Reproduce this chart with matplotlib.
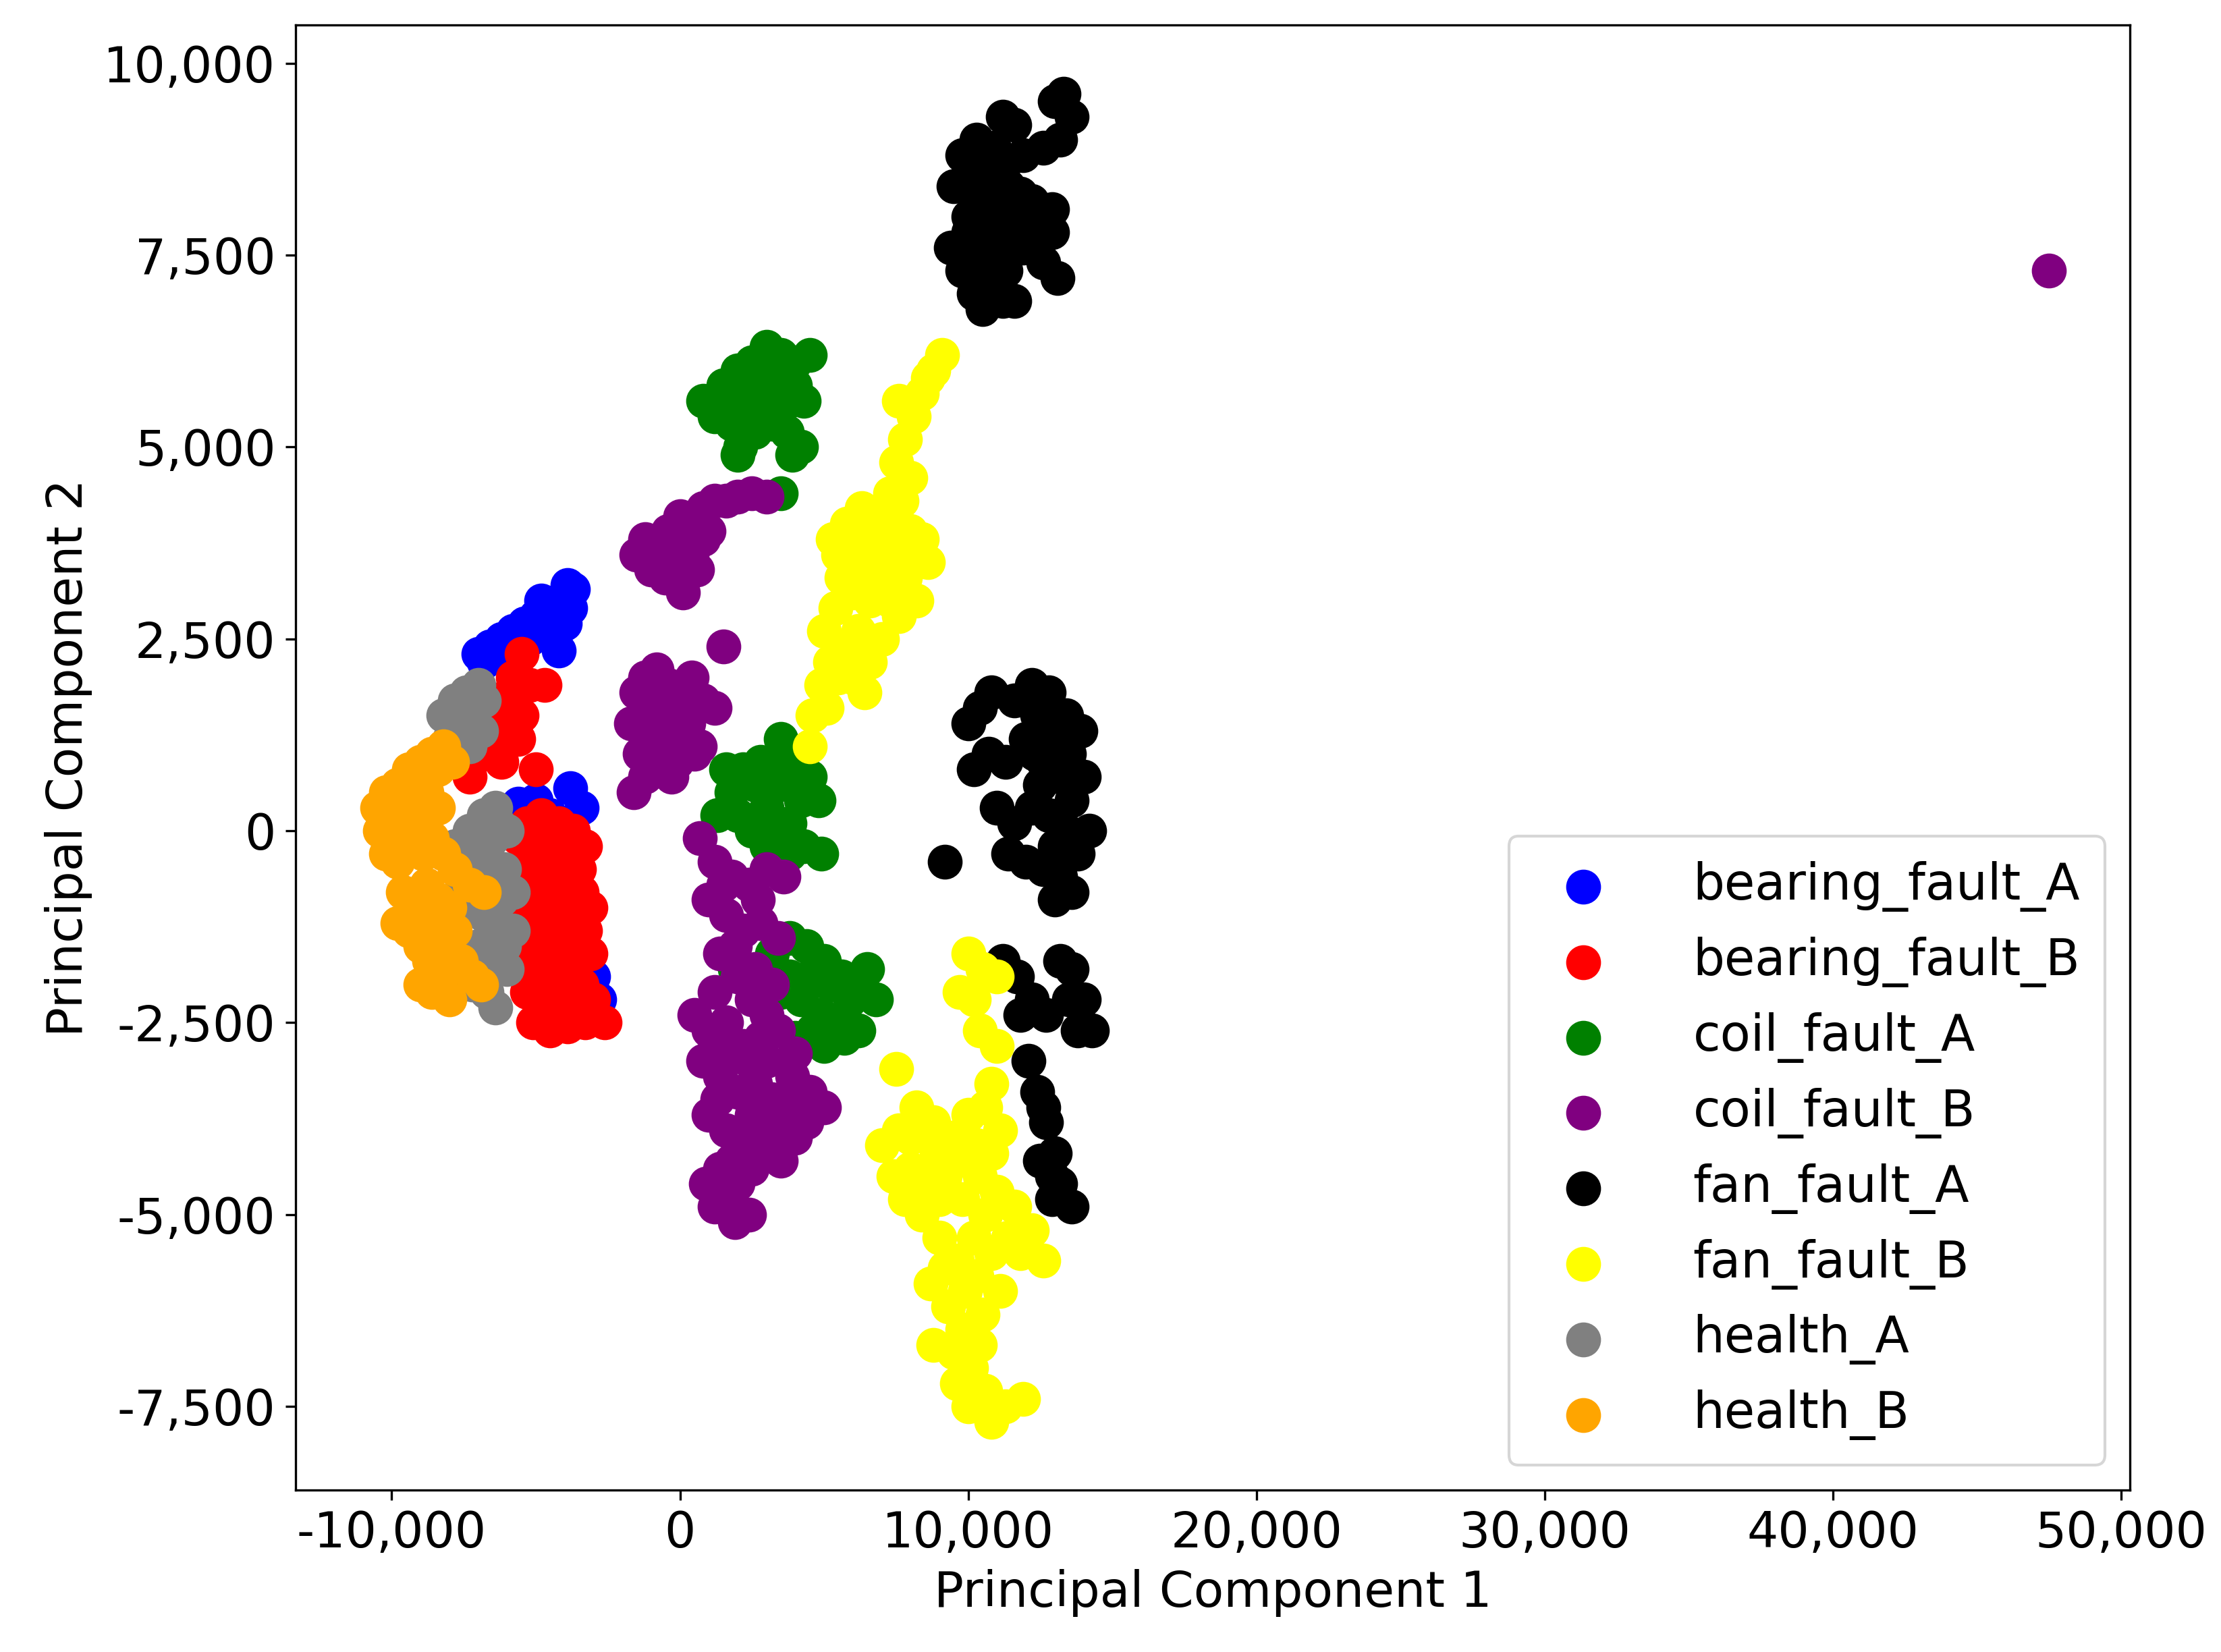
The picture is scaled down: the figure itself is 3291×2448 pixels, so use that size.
import matplotlib
matplotlib.use("Agg")
import matplotlib.pyplot as plt
from matplotlib.ticker import FuncFormatter

labels = ["bearing_fault_A", "bearing_fault_B", "coil_fault_A", "coil_fault_B",
          "fan_fault_A", "fan_fault_B", "health_A", "health_B"]
colors = ["blue", "red", "green", "purple", "black", "yellow", "gray", "orange"]

# values in thousands (x, y)
bearing_fault_A = [(-7.0,2.3),(-6.6,2.4),(-6.2,2.5),(-5.8,2.6),(-5.4,2.7),(-5.0,2.8),(-4.6,2.9),
    (-4.2,3.0),(-3.9,3.2),(-3.7,3.15),(-4.0,2.7),(-4.4,2.5),(-4.2,2.35),(-5.2,2.5),(-4.8,3.0),
    (-6.8,2.2),(-5.6,0.35),(-5.0,0.4),(-3.8,0.55),(-3.4,0.3),(-4.5,0.2),(-2.8,-2.2),(-3.0,-1.9),(-3.5,-1.5),
    (-4.5,2.7),(-3.8,2.9),(-6.0,2.3),(-5.6,2.45)]
bearing_fault_B = [(-5.5,2.3),(-5.8,2.0),(-5.2,1.9),(-4.7,1.9),(-6.0,1.6),(-5.5,1.5),(-6.3,1.2),
    (-6.8,1.0),(-7.3,0.7),(-5.6,1.2),(-6.6,1.4),(-5.0,0.8),(-5.9,1.8),(-6.2,0.9),
    (-5.3,0.1),(-4.8,0.2),(-4.2,0.1),(-3.7,0.0),(-5.4,-0.4),(-4.9,-0.3),(-4.4,-0.5),(-3.9,-0.4),
    (-3.4,-0.8),(-5.3,-0.9),(-4.8,-1.0),(-4.2,-1.1),(-3.6,-1.2),(-3.1,-1.0),(-5.4,-1.5),(-4.9,-1.6),
    (-4.3,-1.7),(-3.7,-1.8),(-3.1,-1.6),(-5.3,-2.1),(-4.8,-2.2),(-4.2,-2.3),(-3.6,-2.3),(-3.0,-2.2),
    (-2.6,-2.5),(-5.1,-2.5),(-4.5,-2.6),(-3.9,-2.55),(-3.3,-2.5),(-5.6,-1.2),(-5.6,-0.1),(-3.3,-0.2),(-4.0,-2.0),
    (-5.0,-0.6),(-4.6,-0.8),(-4.0,-0.8),(-3.5,-0.5),(-5.1,-1.3),(-4.5,-1.4),(-3.9,-1.5),(-3.3,-1.3),
    (-5.1,-1.9),(-4.5,-2.0),(-3.4,-2.0),(-4.6,-0.1),(-4.0,-0.2),(-3.2,-2.3)]
coil_fault_A = [(0.8,5.6),(1.2,5.4),(1.5,5.8),(2.0,6.0),(2.5,6.1),(3.0,6.3),(3.5,6.2),(4.0,6.1),
    (4.5,6.2),(1.8,5.3),(2.3,5.6),(2.8,5.8),(3.3,5.7),(3.8,5.6),(4.3,5.6),(2.1,5.0),(2.6,5.2),
    (3.2,5.3),(3.7,5.2),(4.2,5.0),(3.9,4.9),(3.5,4.4),(2.0,4.9),(1.6,5.6),(2.5,5.5),(3.0,5.5),
    (3.5,5.9),(4.0,5.8),(2.3,5.9),(2.8,6.1),
    (1.3,0.2),(1.8,0.5),(2.2,0.8),(2.6,0.6),(3.0,0.3),(3.5,1.2),(4.0,0.9),(4.5,0.7),(4.8,0.4),
    (2.5,0.0),(3.2,-0.1),(3.8,0.1),(4.3,-0.2),(4.9,-0.3),(1.6,0.8),(3.4,0.6),(2.8,0.9),(3.6,0.9),
    (4.2,0.4),(2.0,0.2),(3.0,-0.2),(3.8,-0.3),
    (3.2,-1.6),(3.8,-1.4),(4.4,-1.5),(5.0,-1.7),(5.6,-1.9),(6.2,-2.0),(6.8,-2.2),(3.5,-2.1),
    (4.2,-2.2),(4.9,-2.4),(5.5,-2.5),(6.2,-2.6),(4.0,-2.7),(5.0,-2.8),(5.9,-2.2),(1.9,-1.8),
    (4.5,-1.9),(5.2,-2.0),(4.6,-2.6),(5.7,-2.7),(6.5,-1.8),(3.8,-1.9)]
coil_fault_B = [(-1.5,3.6),(-1.2,3.8),(-0.8,3.6),(-0.4,3.9),(0.0,4.1),(0.4,4.0),(0.8,4.2),
    (1.2,4.3),(1.6,4.3),(2.0,4.35),(2.5,4.4),(3.0,4.35),(-1.0,3.4),(-0.5,3.3),(0.0,3.5),(0.4,3.6),
    (0.8,3.8),(0.1,3.1),(1.0,3.9),(-0.6,3.7),(-0.2,3.7),(0.2,3.8),(0.6,3.4),(-0.3,3.4),
    (-1.7,1.4),(-1.5,1.8),(-1.2,2.0),(-0.8,2.1),(-0.4,1.9),(0.0,1.8),(0.4,2.0),(0.8,1.7),(1.5,2.4),
    (1.2,1.6),(-1.4,1.0),(-1.0,1.3),(-0.6,1.5),(-0.2,1.2),(0.3,1.4),(0.7,1.1),(-1.6,0.5),(-1.2,0.7),
    (-0.8,0.9),(-0.3,0.7),(0.5,1.0),(-1.0,1.7),(-0.5,1.7),(0.1,1.5),(-1.3,1.4),(-0.8,1.2),(-0.1,0.9),
    (0.7,-0.1),(1.2,-0.4),(1.8,-0.6),(2.4,-0.7),(3.0,-0.5),(3.6,-0.6),(1.0,-0.9),(1.6,-1.1),
    (2.2,-1.3),(2.8,-1.2),(3.4,-1.4),(1.4,-1.6),(2.0,-1.9),(2.6,-1.8),(3.2,-2.0),(0.5,-2.4),
    (1.0,-2.6),(1.6,-2.5),(2.2,-2.8),(2.8,-2.7),(3.4,-2.6),(4.0,-2.9),(0.8,-3.0),(1.4,-3.2),
    (2.0,-3.4),(2.6,-3.3),(3.2,-3.5),(3.8,-3.6),(4.4,-3.8),(5.0,-3.6),(1.0,-3.7),(1.6,-3.9),
    (2.2,-4.0),(2.8,-4.1),(3.4,-4.2),(4.0,-4.0),(0.9,-4.6),(1.4,-4.4),(1.2,-4.9),(2.0,-4.6),
    (1.9,-5.1),(2.4,-5.0),(3.5,-4.3),(1.5,-0.7),(2.7,-0.9),(1.9,-1.5),(2.5,-2.2),(3.0,-2.4),
    (1.2,-2.1),(1.7,-2.9),(2.4,-3.0),(3.0,-3.0),(1.3,-3.5),(2.5,-3.7),(3.1,-3.9),(1.8,-4.3),
    (2.5,-4.4),(1.6,-4.7),(3.9,-3.2),(4.5,-3.4)]
coil_fault_B_outlier = [(47.5,7.3)]
fan_fault_A = [(9.5,8.4),(9.8,8.8),(10.0,8.0),(10.3,9.0),(10.6,8.5),(10.9,8.9),(11.2,9.3),
    (11.6,9.2),(11.9,8.8),(12.2,8.2),(12.6,8.9),(13.0,9.5),(13.3,9.6),(13.6,9.3),(9.4,7.6),
    (9.8,7.3),(10.2,7.0),(10.5,6.8),(10.9,7.4),(11.2,6.9),(11.6,6.9),(11.9,7.6),(12.3,7.9),
    (12.6,7.4),(12.9,7.8),(13.1,7.2),(10.4,7.8),(10.8,8.1),(11.4,8.4),(12.0,8.0),(11.0,7.7),
    (10.0,8.5),(10.3,8.2),(10.7,8.7),(11.1,8.3),(11.5,7.9),(11.8,8.3),(10.1,7.5),(10.6,7.2),
    (11.3,7.3),(12.4,7.6),(12.9,8.1),(13.2,9.0),(10.0,7.8),(11.3,8.7),
    (10.0,1.4),(10.4,1.6),(10.8,1.8),(11.6,1.7),(12.2,1.9),(12.8,1.8),(13.4,1.5),(13.9,1.3),
    (10.2,0.8),(10.7,1.0),(11.3,0.9),(12.0,1.2),(12.6,0.9),(13.2,0.7),(14.0,0.7),(11.0,0.3),
    (11.6,0.1),(12.2,0.3),(12.8,0.2),(13.4,0.0),(14.2,0.0),(11.4,-0.3),(12.0,-0.4),(12.6,-0.5),
    (13.2,-0.6),(13.8,-0.3),(13.0,-0.9),(13.6,-0.8),(9.2,-0.4),(12.4,1.5),(13.0,1.3),(12.5,0.6),
    (13.6,0.4),(13.0,-0.2),(12.3,1.0),(13.5,1.0),
    (11.2,-1.7),(11.7,-1.9),(12.2,-2.2),(12.7,-2.4),(13.2,-1.7),(13.6,-1.8),(14.0,-2.2),
    (14.3,-2.6),(13.8,-2.6),(11.8,-2.4),(12.1,-3.0),(12.4,-3.4),(12.7,-3.8),(13.0,-4.2),
    (13.2,-4.6),(13.6,-4.9),(12.9,-4.8),(12.5,-4.3),(13.5,-2.2),(12.6,-3.6),(12.9,-4.5)]
fan_fault_B = [(4.5,1.1),(4.6,1.5),(4.9,1.9),(5.2,2.2),(5.0,2.6),(5.4,2.9),(5.6,3.3),(5.9,3.6),
    (5.3,3.8),(5.8,4.0),(6.3,4.2),(6.7,4.0),(7.2,4.1),(7.7,4.3),(8.0,3.9),(8.6,3.5),(8.2,3.0),
    (7.6,2.8),(7.0,2.5),(6.6,2.2),(6.2,2.6),(6.6,3.0),(7.0,3.4),(7.5,3.6),(6.0,3.1),(5.7,2.4),
    (8.4,3.8),(7.8,3.3),(7.3,4.4),(7.5,4.8),(7.8,5.1),(8.1,5.4),(8.4,5.7),(8.8,6.0),(9.1,6.2),
    (7.6,5.6),(6.4,1.8),(5.1,1.6),(6.2,3.6),(6.8,3.7),(7.3,3.0),(6.3,3.3),(5.5,2.0),(6.0,2.0),
    (7.8,3.8),(7.1,3.8),(6.5,4.0),(5.5,3.6),(8.0,4.6),(8.6,5.9),
    (7.5,-3.1),(10.0,-1.6),(10.5,-1.8),(11.0,-1.9),(9.7,-2.1),(10.4,-2.6),(11.0,-2.8),(10.8,-3.3),
    (7.0,-4.1),(7.6,-3.9),(8.2,-3.6),(8.8,-3.8),(9.4,-4.0),(10.0,-3.7),(10.6,-3.6),(11.1,-3.9),
    (7.4,-4.5),(8.0,-4.4),(8.6,-4.6),(9.2,-4.5),(9.8,-4.8),(10.4,-4.5),(11.0,-4.7),(11.6,-4.9),
    (12.2,-5.2),(12.6,-5.6),(8.4,-5.0),(9.0,-5.3),(9.6,-5.6),(10.2,-5.3),(10.8,-5.5),(11.4,-5.3),
    (8.7,-5.9),(9.3,-6.2),(9.9,-6.0),(10.5,-6.3),(11.1,-6.0),(8.8,-6.7),(9.5,-6.8),(10.1,-7.0),
    (10.6,-7.3),(10.0,-7.5),(10.8,-7.7),(11.3,-7.5),(11.9,-7.4),(9.8,-6.5),(10.2,-2.2),
    (8.0,-4.0),(8.9,-4.2),(9.6,-4.3),(10.3,-4.1),(10.8,-4.2),(7.8,-4.8),(9.0,-4.8),(10.6,-5.0),
    (11.8,-5.5),(9.2,-5.7),(10.3,-5.8),(9.6,-7.2),(10.4,-6.7)]
health_A = [(-8.2,1.5),(-7.8,1.7),(-7.4,1.8),(-7.0,1.9),(-6.8,1.7),(-7.2,1.4),(-7.6,1.3),(-8.0,1.2),
    (-7.3,1.1),(-6.9,1.3),(-7.5,1.6),(-7.9,1.4),(-7.1,1.7),
    (-7.8,-0.2),(-7.3,0.0),(-6.8,0.2),(-6.4,0.3),(-6.0,0.0),(-7.6,-0.6),(-7.1,-0.5),(-6.6,-0.4),
    (-6.1,-0.5),(-5.8,-0.8),(-7.8,-1.1),(-7.3,-1.0),(-6.8,-1.1),(-6.3,-1.2),(-5.8,-1.3),(-7.5,-1.6),
    (-7.0,-1.5),(-6.5,-1.7),(-6.0,-1.8),(-7.2,-2.0),(-6.7,-2.1),(-6.4,-2.3),(-8.0,-1.6),
    (-6.5,-0.1),(-6.9,-0.8),(-6.2,-0.9),(-6.6,-1.4),(-6.1,-1.5),(-7.0,-0.2),(-6.3,0.1)]
health_B = [(-10.5,0.3),(-10.2,0.5),(-9.8,0.6),(-9.4,0.8),(-9.0,0.9),(-8.6,1.0),(-8.2,1.1),
    (-7.9,0.9),(-10.4,0.0),(-10.0,0.1),(-9.6,0.3),(-9.2,0.4),(-8.8,0.5),(-8.4,0.3),(-10.2,-0.3),
    (-9.8,-0.4),(-9.4,-0.2),(-9.0,0.0),(-8.6,-0.1),(-8.2,-0.3),(-7.8,-0.5),(-7.3,-0.7),(-6.8,-0.8),
    (-9.6,-0.8),(-9.2,-0.9),(-8.8,-0.7),(-8.4,-0.9),(-8.0,-1.0),(-9.4,-1.3),(-9.0,-1.5),(-8.6,-1.3),
    (-8.2,-1.5),(-7.6,-1.7),(-7.2,-1.9),(-9.0,-2.0),(-8.6,-2.1),(-8.0,-2.2),(-6.9,-2.0),(-9.8,-1.2),
    (-9.3,0.1),(-8.9,-0.3),(-9.1,-1.1),(-8.7,-1.7),(-8.3,-1.9),(-7.8,-1.3),(-8.4,0.8),(-9.6,-0.1)]

series = [bearing_fault_A, bearing_fault_B, coil_fault_A, coil_fault_B + coil_fault_B_outlier,
          fan_fault_A, fan_fault_B, health_A, health_B]

fig = plt.figure(figsize=(3291/300, 2448/300), dpi=300)
ax = fig.add_axes([0.133, 0.098, 0.826, 0.887])
for pts, lab, c in zip(series, labels, colors):
    ax.scatter([p[0]*1000 for p in pts], [p[1]*1000 for p in pts], s=130, c=c, label=lab)

ax.set_xlim(-13340, 50300)
ax.set_ylim(-8590, 10500)
ax.set_xticks(range(-10000, 50001, 10000))
ax.set_yticks(range(-7500, 10001, 2500))
fmt = FuncFormatter(lambda v, p: f"{int(v):,}")
ax.xaxis.set_major_formatter(fmt)
ax.yaxis.set_major_formatter(fmt)
ax.tick_params(labelsize=17.5)
ax.set_xlabel("Principal Component 1", fontsize=17.5)
ax.set_ylabel("Principal Component 2", fontsize=17.5)
ax.legend(loc="lower right", fontsize=17.7, borderpad=0.5, labelspacing=0.5, handletextpad=1.2)
fig.savefig("out.png", dpi=300)
